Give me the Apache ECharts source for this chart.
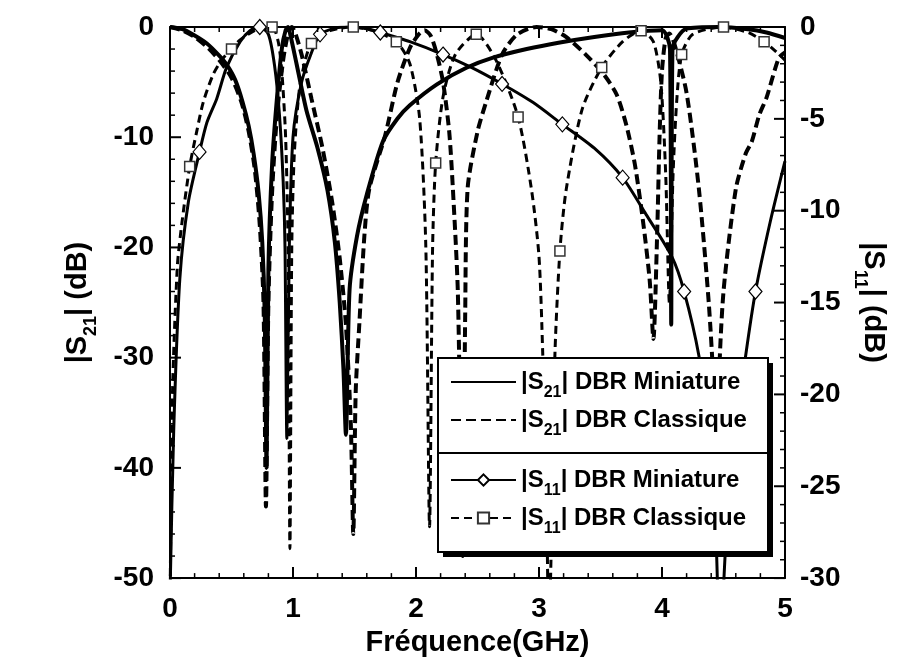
<!DOCTYPE html>
<html><head><meta charset="utf-8">
<script src="https://cdn.jsdelivr.net/npm/echarts@6/dist/echarts.min.js"></script>
<style>html,body{margin:0;padding:0;background:#fff}#c{width:916px;height:662px}</style>
</head><body><div id="c"></div>
<script>
// [frequency GHz, dB]
const s21Miniature = [[0,0],[0.1,-0.2],[0.19,-0.7],[0.3,-1.5],[0.4,-2.6],[0.46,-3.4],[0.53,-4.8],[0.59,-6.8],[0.64,-9],[0.68,-11.5],[0.72,-15],[0.75,-19.5],[0.77,-26],[0.785,-40],[0.8,-22],[0.83,-12.5],[0.87,-6.4],[0.91,-1.9],[0.94,-0.3],[0.96,0],[0.98,-0.8],[1.03,-3.4],[1.11,-7.6],[1.2,-11],[1.28,-14.8],[1.34,-19.5],[1.38,-25],[1.41,-31],[1.43,-37],[1.46,-23.8],[1.52,-19],[1.6,-15.2],[1.73,-10.4],[1.85,-8.3],[1.95,-7.1],[2.17,-5.2],[2.41,-3.7],[2.62,-2.8],[2.9,-2],[3.17,-1.4],[3.45,-0.9],[3.73,-0.5],[4.0,-0.3],[4.065,-2],[4.075,-27],[4.085,-2],[4.2,-0.15],[4.46,0],[4.7,-0.2],[4.85,-0.5],[5.0,-1.0]];
const s21Classique = [[0,0],[0.1,-0.3],[0.2,-0.9],[0.3,-1.8],[0.4,-3],[0.5,-4.6],[0.58,-6.8],[0.64,-9.5],[0.69,-13],[0.73,-18],[0.76,-25],[0.78,-43.5],[0.8,-25],[0.83,-15],[0.87,-8],[0.92,-3],[0.96,-0.6],[0.99,0],[1.02,-0.6],[1.07,-2.5],[1.15,-6.5],[1.24,-11],[1.32,-16],[1.38,-21],[1.43,-27],[1.47,-36],[1.49,-46],[1.51,-33],[1.54,-26.8],[1.58,-19],[1.62,-14.7],[1.75,-9.8],[1.85,-5],[1.95,-1.9],[2.02,-0.7],[2.07,-0.3],[2.12,-0.8],[2.17,-2.5],[2.22,-5],[2.27,-9.5],[2.3,-14.7],[2.34,-24],[2.38,-48],[2.4,-26],[2.42,-14.6],[2.5,-9.5],[2.57,-6.8],[2.7,-2.5],[2.82,-0.7],[2.98,0],[3.1,-0.2],[3.22,-0.9],[3.38,-2.5],[3.52,-4.2],[3.63,-6.1],[3.71,-8.9],[3.78,-12.5],[3.85,-18],[3.9,-23],[3.93,-28.3],[3.96,-19],[3.98,-10],[4.0,-4],[4.03,-1],[4.06,-0.6],[4.1,-1.5],[4.2,-6],[4.3,-14.7],[4.38,-25],[4.42,-33],[4.44,-47],[4.46,-33],[4.5,-24],[4.6,-14.7],[4.68,-11.5],[4.73,-10.4],[4.79,-8],[4.85,-6.4],[4.95,-2.8],[5.0,-2.3]];
const s11Miniature = [[0,-31],[0.03,-22],[0.08,-13.7],[0.15,-9.5],[0.24,-6.8],[0.3,-5.2],[0.38,-3.9],[0.46,-2.2],[0.57,-0.8],[0.65,-0.2],[0.73,0],[0.8,-0.4],[0.85,-2.1],[0.89,-4.8],[0.92,-8.4],[0.935,-12],[0.95,-22.4],[0.97,-12],[1.0,-6],[1.07,-3],[1.15,-1.4],[1.22,-0.4],[1.35,-0.05],[1.45,0],[1.6,-0.1],[1.71,-0.3],[1.95,-0.8],[2.22,-1.5],[2.45,-2.2],[2.7,-3.1],[2.95,-4.1],[3.19,-5.3],[3.45,-6.6],[3.68,-8.2],[3.87,-10.2],[4.08,-12.5],[4.18,-14.4],[4.3,-17.9],[4.38,-22],[4.44,-28],[4.47,-34],[4.52,-28],[4.6,-22],[4.68,-17.9],[4.76,-14.4],[4.88,-10.6],[5.0,-7.3]];
const s11Classique = [[0,-32],[0.02,-20],[0.06,-13],[0.1,-10.5],[0.16,-7.6],[0.22,-5.6],[0.27,-4.1],[0.35,-2.6],[0.42,-1.8],[0.5,-1.2],[0.57,-0.7],[0.7,-0.15],[0.83,0],[0.88,-0.8],[0.91,-2.5],[0.94,-6],[0.96,-12],[0.975,-28.4],[0.99,-12],[1.01,-7],[1.05,-3.5],[1.1,-1.8],[1.15,-0.9],[1.3,-0.2],[1.49,0],[1.65,-0.2],[1.84,-0.8],[1.95,-2],[2.03,-5],[2.08,-12],[2.11,-27.2],[2.135,-12],[2.16,-7.4],[2.22,-3.8],[2.32,-1.5],[2.49,-0.4],[2.65,-1.8],[2.83,-4.9],[2.94,-8.9],[3.0,-12.5],[3.03,-17.7],[3.06,-25],[3.08,-33],[3.11,-25],[3.13,-17.7],[3.17,-12.2],[3.22,-8.9],[3.35,-4.5],[3.51,-2.2],[3.68,-0.8],[3.83,-0.2],[3.93,-0.8],[3.99,-3],[4.03,-8],[4.06,-15],[4.09,-8],[4.12,-4],[4.16,-1.5],[4.25,-0.4],[4.5,0],[4.7,-0.3],[4.83,-0.8],[4.92,-1.3],[5.0,-1.8]];
const s11MiniatureMarkers = [0.24,0.73,1.22,1.71,2.22,2.7,3.19,3.68,4.18,4.76];
const s11ClassiqueMarkers = [0.16,0.5,0.83,1.15,1.49,1.84,2.16,2.49,2.83,3.17,3.51,3.83,4.16,4.5,4.83];
const seriesNames = ['|S21| DBR Miniature','|S21| DBR Classique','|S11| DBR Miniature','|S11| DBR Classique'];
const xName = 'Fréquence(GHz)';
const yLeftName = '|S{sub|21}| (dB)';
const yRightName = '|S{sub|11}| (dB)';
// axis ranges and tick steps
const xRange = [0, 5], xMajor = 1, xMinor = 0.2;
const yLeftRange = [-50, 0], yLeftMajor = 10, yLeftMinor = 2;
const yRightRange = [-30, 0], yRightMajor = 5, yRightMinor = 1;

const FONT = 'Liberation Sans, Arial, sans-serif';
const MAJOR_LEN = 11, MINOR_LEN = 5;
function withMarkers(pairs, marks){
  return pairs.map(p => marks.some(m => Math.abs(m - p[0]) < 1e-9) ? {value:p} : {value:p, symbol:'none'});
}
// tick positions along an axis: [value, tickLength]
function tickList(range, major, minor){
  const out = [];
  const n = Math.round((range[1] - range[0]) / minor);
  for (let i = 0; i <= n; i++) {
    const v = +(range[0] + i * minor).toFixed(6);
    const isMajor = Math.abs(v / major - Math.round(v / major)) < 1e-6;
    out.push([v, isMajor ? MAJOR_LEN : MINOR_LEN]);
  }
  return out;
}
const chart = echarts.init(document.getElementById('c'));
const labelStyle = {color:'#000', fontSize:28, fontWeight:'bold', fontFamily:FONT};
const subRich = {sub:{fontSize:18, fontWeight:'bold', fontFamily:FONT, color:'#000', padding:[26,0,0,0]}};
function mainAxis(range, step, position, extra){
  return Object.assign({type:'value', position:position, min:range[0], max:range[1], interval:step,
    axisLine:{show:true, onZero:false, lineStyle:{color:'#000', width:2}},
    axisTick:{show:false}, splitLine:{show:false}}, extra);
}
function legendFor(i, top, hideSymbol){
  const l = {
    data:[seriesNames[i]], left:450, top:top, orient:'vertical', z:20,
    itemWidth:65, itemHeight:14, itemGap:0, padding:0, selectedMode:false,
    formatter: n => n.replace(/S(\d\d)/, 'S{sub|$1}'),
    textStyle:{color:'#000', fontSize:24, fontWeight:'bold', fontFamily:FONT, rich:{sub:{fontSize:16, fontWeight:'bold', fontFamily:FONT, color:'#000', padding:[22,0,0,0]}}}
  };
  if (hideSymbol) l.itemStyle = {opacity:0};
  return l;
}
function tickLine(x1, y1, x2, y2, len){
  return {type:'line', shape:{x1:x1, y1:y1, x2:x2, y2:y2}, style:{stroke:'#000', lineWidth: len === MAJOR_LEN ? 2 : 1.5}};
}
// inside ticks drawn through the axes' own scales
const xTickSeries = {
  type:'custom', name:'xTicks', xAxisIndex:0, yAxisIndex:0, z:8, silent:true, clip:false,
  data: tickList(xRange, xMajor, xMinor).map(t => [t[0], yLeftRange[0], t[1]]),
  renderItem: (params, api) => {
    const len = api.value(2);
    const b = api.coord([api.value(0), yLeftRange[0]]);
    const t = api.coord([api.value(0), yLeftRange[1]]);
    return {type:'group', children:[tickLine(b[0], b[1], b[0], b[1] - len, len), tickLine(t[0], t[1], t[0], t[1] + len, len)]};
  }
};
const yLeftTickSeries = {
  type:'custom', name:'yLeftTicks', xAxisIndex:0, yAxisIndex:0, z:8, silent:true, clip:false,
  data: tickList(yLeftRange, yLeftMajor, yLeftMinor).map(t => [xRange[0], t[0], t[1]]),
  renderItem: (params, api) => {
    const len = api.value(2);
    const p = api.coord([xRange[0], api.value(1)]);
    return tickLine(p[0], p[1], p[0] + len, p[1], len);
  }
};
const yRightTickSeries = {
  type:'custom', name:'yRightTicks', xAxisIndex:0, yAxisIndex:1, z:8, silent:true, clip:false,
  data: tickList(yRightRange, yRightMajor, yRightMinor).map(t => [xRange[1], t[0], t[1]]),
  renderItem: (params, api) => {
    const len = api.value(2);
    const p = api.coord([xRange[1], api.value(1)]);
    return tickLine(p[0], p[1], p[0] - len, p[1], len);
  }
};
const option = {
  animation:false,
  backgroundColor:'#fff',
  grid:{left:170, right:131, top:27, bottom:82},
  xAxis:[
    mainAxis(xRange, xMajor, 'bottom', {name:xName, nameLocation:'middle', nameGap:48,
      nameTextStyle:{fontSize:29, fontWeight:'bold', fontFamily:FONT, color:'#000'},
      axisLabel:Object.assign({}, labelStyle, {margin:17})}),
    mainAxis(xRange, xMajor, 'top', {axisLabel:{show:false}})
  ],
  yAxis:[
    mainAxis(yLeftRange, yLeftMajor, 'left', {name:yLeftName, nameLocation:'middle', nameGap:70, nameRotate:90,
      nameTextStyle:{fontSize:29, fontWeight:'bold', fontFamily:FONT, color:'#000', rich:subRich},
      axisLabel:Object.assign({}, labelStyle, {margin:16})}),
    mainAxis(yRightRange, yRightMajor, 'right', {name:yRightName, nameLocation:'middle', nameGap:66, nameRotate:-90,
      nameTextStyle:{fontSize:29, fontWeight:'bold', fontFamily:FONT, color:'#000', rich:subRich},
      axisLabel:Object.assign({}, labelStyle, {margin:15})})
  ],
  legend:[legendFor(0,370,true), legendFor(1,408,true), legendFor(2,468,false), legendFor(3,506,false)],
  graphic:[
    {type:'rect', z:10, shape:{x:443, y:363, width:330, height:194}, style:{fill:'#000'}},
    {type:'rect', z:11, shape:{x:438, y:358, width:330, height:194}, style:{fill:'#fff', stroke:'#000', lineWidth:2}},
    {type:'line', z:12, shape:{x1:438, y1:453, x2:768, y2:453}, style:{stroke:'#000', lineWidth:2}}
  ],
  series:[
    {name:seriesNames[0], type:'line', xAxisIndex:0, yAxisIndex:0, data:s21Miniature, symbol:'none', smooth:0.25,
      lineStyle:{color:'#000', width:4}, itemStyle:{color:'#000', opacity:0}},
    {name:seriesNames[1], type:'line', xAxisIndex:0, yAxisIndex:0, data:s21Classique, symbol:'none', smooth:0.25,
      lineStyle:{color:'#000', width:4, type:[10,5]}, itemStyle:{color:'#000', opacity:0}},
    {name:seriesNames[2], type:'line', xAxisIndex:0, yAxisIndex:1, data:withMarkers(s11Miniature, s11MiniatureMarkers),
      symbol:'diamond', symbolSize:[13,15], showSymbol:true, showAllSymbol:true, smooth:0.25,
      lineStyle:{color:'#000', width:3}, itemStyle:{color:'#fff', borderColor:'#000', borderWidth:1.2}},
    {name:seriesNames[3], type:'line', xAxisIndex:0, yAxisIndex:1, data:withMarkers(s11Classique, s11ClassiqueMarkers),
      symbol:'rect', symbolSize:10, showSymbol:true, showAllSymbol:true, smooth:0.25,
      lineStyle:{color:'#000', width:3, type:[8,5]}, itemStyle:{color:'#fff', borderColor:'#333', borderWidth:1.5}},
    xTickSeries, yLeftTickSeries, yRightTickSeries
  ]
};
chart.setOption(option);
</script>
</body></html>
